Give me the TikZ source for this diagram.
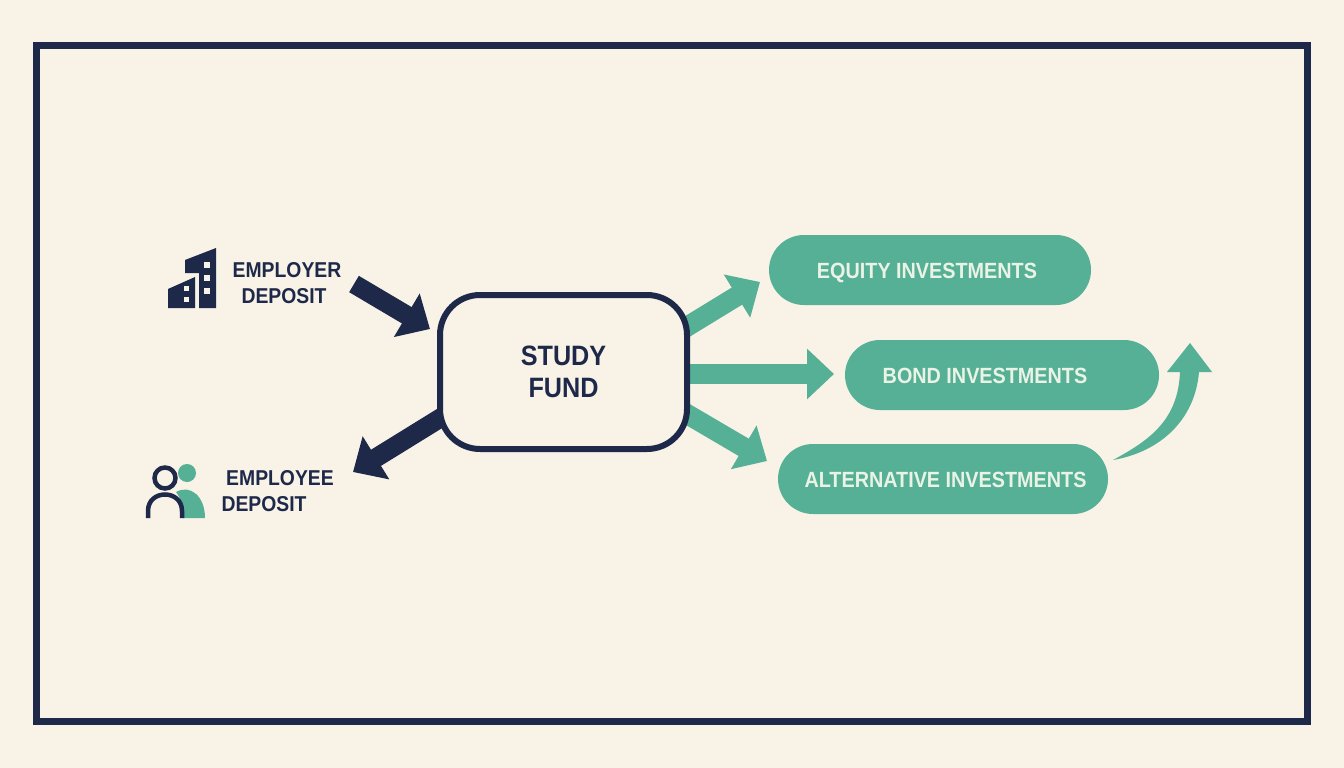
\documentclass[tikz,border=0pt]{standalone}
\usepackage{fontspec}
\setmainfont[FakeStretch=0.9]{Liberation Sans}
\usetikzlibrary{arrows.meta}
\definecolor{bgc}{HTML}{F8F2E7}
\definecolor{navy}{HTML}{1E2849}
\definecolor{teal}{HTML}{55B096}
\definecolor{pilltext}{HTML}{EAF3E6}
\tikzset{
  x=1pt,y=-1pt,
  frame/.style={draw=navy,line width=7pt,fill=none},
  hub/.style={draw=navy,line width=6pt,fill=bgc,rounded corners=40pt,minimum width=247pt,minimum height=154pt,inner sep=0pt,align=center,text=navy,font=\bfseries\fontsize{28}{32}\selectfont},
  pill/.style={fill=teal,rounded corners=35pt,minimum height=70pt,inner sep=0pt,text height=16pt,text depth=0pt,text=pilltext,font=\bfseries\fontsize{22}{26}\selectfont},
  lab/.style={inner sep=0pt,text=navy,font=\bfseries\fontsize{21.5}{26}\selectfont},
  navyarrow/.style={draw=navy,line width=19pt,-{Triangle[length=27pt,width=49pt]}},
  tealarrow/.style={draw=teal,line width=20pt,-{Triangle[length=27pt,width=49pt]}},
}
\begin{document}
\begin{tikzpicture}
\useasboundingbox (0,0) rectangle (1344,768);
\fill[bgc] (0,0) rectangle (1344,768);
\draw[frame] (36.5,45.5) rectangle (1307.5,721.5);

% free ends of connectors
\coordinate (t1) at (354,284);
\coordinate (h1) at (430,329);
\coordinate (t2) at (455,409);
\coordinate (h2) at (353,472);
\coordinate (ta) at (675,334);
\coordinate (ha) at (760,282);
\coordinate (tb) at (680,374);
\coordinate (hb) at (834,374);
\coordinate (tc) at (675,407);
\coordinate (hc) at (767,461);

\draw[tealarrow] (ta) -- (ha);
\draw[tealarrow] (tb) -- (hb);
\draw[tealarrow] (tc) -- (hc);
\draw[navyarrow] (t2) -- (h2);

\node[hub] (fund) at (563.5,372) {STUDY\\FUND};

\draw[navyarrow] (t1) -- (h1);

\node[pill,minimum width=322pt] (eq) at (930,270) {\hspace*{-6pt}EQUITY INVESTMENTS};
\node[pill,minimum width=314pt] (bo) at (1002,375) {\hspace*{-34pt}BOND INVESTMENTS};
\node[pill,minimum width=330pt] (al) at (943,479) {\hspace*{5pt}ALTERNATIVE INVESTMENTS};

% curved arrow
\coordinate (cs) at (1113,460);
\coordinate (ct) at (1190,343);
\fill[teal] (cs) .. controls (1150,440) and (1178,420) .. (1180,372)
  -- (1167,372) -- (ct) -- (1212,372) -- (1199,372)
  .. controls (1195,420) and (1160,452) .. (cs) -- cycle;

% building icon
\fill[navy] (185,260) -- (216,248) -- (216,308) -- (199,308) -- (199,273) -- (185,273) -- cycle;
\fill[navy] (168,289) -- (195,277) -- (195,308) -- (168,308) -- cycle;
\foreach \wy in {265,278,291}{\fill[bgc] (204,\wy-3) rectangle (210,\wy+3);}
\foreach \wy in {288,299}{\fill[bgc] (184,\wy-2.5) rectangle (189,\wy+2.5);}

% people icon
\fill[teal] (187,473) circle[radius=9];
\fill[teal] (176,492) .. controls (190,484) and (205,496) .. (205,518) -- (183,518) .. controls (183,508) and (182,500) .. (176,492) -- cycle;
\draw[navy,line width=4.5pt] (165,478) circle[radius=10.5];
\draw[navy,line width=4.5pt] (148,518) -- (148,511) .. controls (148,489) and (182,489) .. (182,511) -- (182,518);

\node[lab] (er1) at (287,270) {EMPLOYER};
\node[lab] (er2) at (284,296) {DEPOSIT};
\node[lab] (ee1) at (280,478) {EMPLOYEE};
\node[lab] (ee2) at (264,504) {DEPOSIT};
\end{tikzpicture}
\end{document}
